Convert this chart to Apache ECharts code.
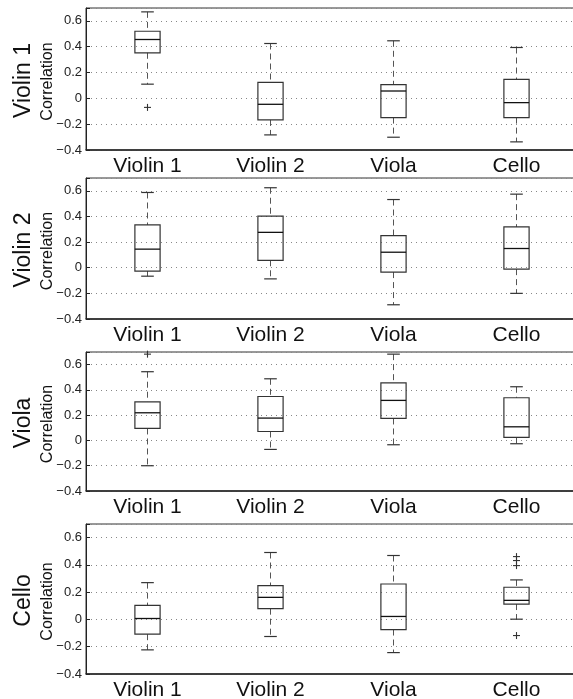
<!DOCTYPE html>
<html>
<head>
<meta charset="utf-8">
<script src="https://cdn.jsdelivr.net/npm/echarts@6/dist/echarts.min.js"></script>
<style>
html,body{margin:0;padding:0;background:#fff;overflow:hidden;}
#chart{width:573px;height:699px;}
</style>
</head>
<body>
<div id="chart"></div>
<script>
const categories = ['Violin 1', 'Violin 2', 'Viola', 'Cello'];
const rowLabels = ['Violin 1', 'Violin 2', 'Viola', 'Cello'];
const axisTitle = 'Correlation';
const yTicks = { min: -0.4, max: 0.7, step: 0.2 };

// each box: [lower whisker, Q1, median, Q3, upper whisker], one per category
const boxesViolin1 = [[0.11, 0.353, 0.456, 0.52, 0.67], [-0.283, -0.167, -0.046, 0.124, 0.425], [-0.301, -0.149, 0.057, 0.106, 0.446], [-0.337, -0.149, -0.033, 0.147, 0.394]];
const boxesViolin2 = [[-0.066, -0.026, 0.145, 0.334, 0.587], [-0.087, 0.058, 0.276, 0.403, 0.624], [-0.289, -0.034, 0.121, 0.25, 0.532], [-0.2, -0.011, 0.15, 0.318, 0.574]];
const boxesViola = [[-0.2, 0.095, 0.219, 0.306, 0.544], [-0.071, 0.071, 0.177, 0.348, 0.488], [-0.034, 0.174, 0.317, 0.456, 0.683], [-0.026, 0.024, 0.108, 0.338, 0.425]];
const boxesCello = [[-0.223, -0.108, 0.007, 0.103, 0.27], [-0.125, 0.079, 0.162, 0.248, 0.491], [-0.243, -0.074, 0.022, 0.26, 0.469], [0.002, 0.113, 0.14, 0.236, 0.29]];

// outliers: [category index, value]
const outliersViolin1 = [[0, -0.07]];
const outliersViolin2 = [];
const outliersViola = [[0, 0.683]];
const outliersCello = [[3, 0.461], [3, 0.432], [3, 0.395], [3, -0.118]];

const panelBoxes = [boxesViolin1, boxesViolin2, boxesViola, boxesCello];
const panelOutliers = [outliersViolin1, outliersViolin2, outliersViola, outliersCello];

// layout (pixels)
const gridTops = [8, 178, 352, 524];
const gridHeights = [142, 141, 139, 150];
const FONT = "'Liberation Sans', Arial, Helvetica, sans-serif";

function fmt(v) {
  if (Math.abs(v - yTicks.max) < 1e-9) return '';
  const r = Number(v.toFixed(1));
  if (r === 0) return '0';
  return r < 0 ? '\u2212' + String(-r) : String(r);
}

function renderBox(params, api) {
  const c = api.value(0);
  const lo = api.coord([c, api.value(1)]);
  const q1 = api.coord([c, api.value(2)]);
  const md = api.coord([c, api.value(3)]);
  const q3 = api.coord([c, api.value(4)]);
  const hi = api.coord([c, api.value(5)]);
  const band = api.size([1, 0])[0];
  const bw = band * 0.205;
  const cw = bw / 2;
  const x = q1[0];
  const whisk = { stroke: '#555', lineWidth: 1, lineDash: [6, 4] };
  const solid = { stroke: '#333', lineWidth: 1.2 };
  return {
    type: 'group',
    children: [
      { type: 'line', shape: { x1: x, y1: hi[1], x2: x, y2: q3[1] }, style: whisk },
      { type: 'line', shape: { x1: x, y1: q1[1], x2: x, y2: lo[1] }, style: whisk },
      { type: 'line', shape: { x1: x - cw / 2, y1: hi[1], x2: x + cw / 2, y2: hi[1] }, style: solid },
      { type: 'line', shape: { x1: x - cw / 2, y1: lo[1], x2: x + cw / 2, y2: lo[1] }, style: solid },
      { type: 'rect', shape: { x: x - bw / 2, y: q3[1], width: bw, height: q1[1] - q3[1] }, style: { fill: 'none', stroke: '#333', lineWidth: 1.2 } },
      { type: 'line', shape: { x1: x - bw / 2, y1: md[1], x2: x + bw / 2, y2: md[1] }, style: { stroke: '#111', lineWidth: 1.3 } }
    ]
  };
}

function renderPlus(params, api) {
  const p = api.coord([api.value(0), api.value(1)]);
  const s = 3.5;
  const st = { stroke: '#333', lineWidth: 1.1 };
  return {
    type: 'group',
    children: [
      { type: 'line', shape: { x1: p[0] - s, y1: p[1], x2: p[0] + s, y2: p[1] }, style: st },
      { type: 'line', shape: { x1: p[0], y1: p[1] - s, x2: p[0], y2: p[1] + s }, style: st }
    ]
  };
}

const grids = [], xAxes = [], yAxes = [], series = [], graphics = [];
for (let i = 0; i < 4; i++) {
  grids.push({
    left: 86, width: 492, top: gridTops[i], height: gridHeights[i],
    show: true, borderColor: '#333', borderWidth: 1,
    containLabel: false, outerBoundsMode: 'none'
  });
  xAxes.push({
    type: 'category', gridIndex: i, data: categories, boundaryGap: true,
    axisLine: { onZero: false, lineStyle: { color: '#222', width: 1.5 } },
    axisTick: { show: false },
    axisLabel: { color: '#111', fontSize: 21, fontFamily: FONT, margin: 6 },
    splitLine: { show: false }
  });
  yAxes.push({
    type: 'value', gridIndex: i, min: yTicks.min, max: yTicks.max, interval: yTicks.step,
    axisLine: { show: true, onZero: false, lineStyle: { color: '#222', width: 1 } },
    axisTick: { show: true, inside: true, length: 4, lineStyle: { color: '#222' } },
    axisLabel: { color: '#222', fontSize: 13, fontFamily: FONT, margin: 4, formatter: fmt },
    splitLine: { show: true, lineStyle: { color: '#888', type: [1, 4], width: 1 } }
  });
  series.push({
    type: 'custom', xAxisIndex: i, yAxisIndex: i, renderItem: renderBox,
    encode: { x: 0, y: [1, 2, 3, 4, 5] },
    data: panelBoxes[i].map((b, k) => [k].concat(b)),
    clip: false,
    z: 3
  });
  series.push({
    type: 'custom', xAxisIndex: i, yAxisIndex: i, renderItem: renderPlus,
    encode: { x: 0, y: 1 },
    data: panelOutliers[i],
    clip: false,
    z: 4
  });
  const cy = gridTops[i] + gridHeights[i] / 2 + 1.5;
  graphics.push({
    type: 'text', x: 23.5, y: cy, rotation: Math.PI / 2,
    style: { text: rowLabels[i], fontSize: 23, fontFamily: FONT, fill: '#111', align: 'center', verticalAlign: 'middle' }
  });
  graphics.push({
    type: 'text', x: 47.5, y: cy + 1, rotation: Math.PI / 2,
    style: { text: axisTitle, fontSize: 16, fontFamily: FONT, fill: '#111', align: 'center', verticalAlign: 'middle' }
  });
}

const chart = echarts.init(document.getElementById('chart'), null, { renderer: 'canvas' });
chart.setOption({
  backgroundColor: '#fff',
  animation: false,
  grid: grids,
  xAxis: xAxes,
  yAxis: yAxes,
  series: series,
  graphic: graphics
});
</script>
</body>
</html>
